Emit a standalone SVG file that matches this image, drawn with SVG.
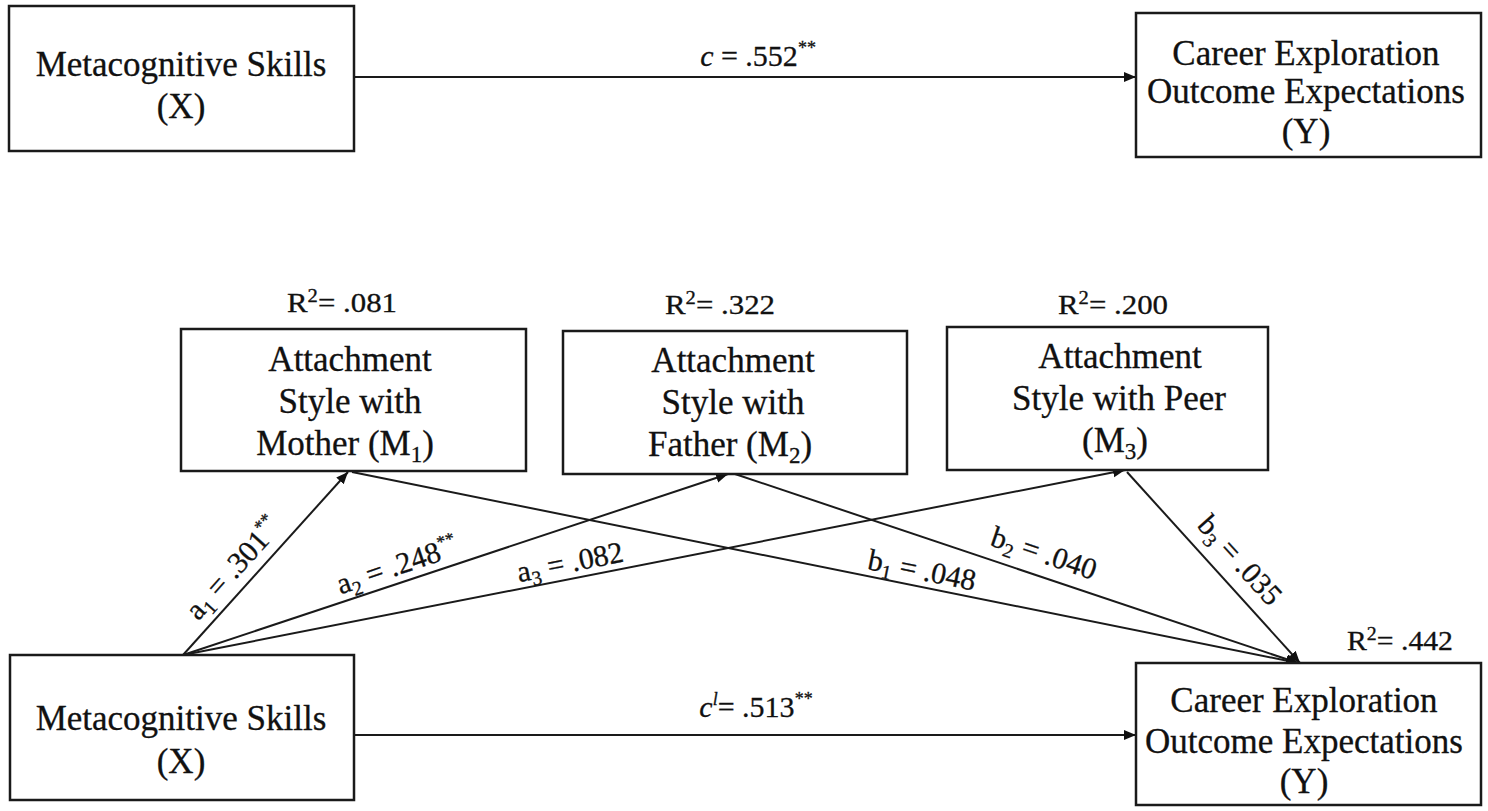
<svg xmlns="http://www.w3.org/2000/svg" width="1488" height="811" viewBox="0 0 1488 811">
<style>
.box{fill:#fff;stroke:#1a1a1a;stroke-width:2.5}
.t{font-family:"Liberation Serif","Times New Roman",serif;font-size:35px;fill:#111;text-anchor:middle;stroke:#111;stroke-width:0.3}
.lbl{font-family:"Liberation Serif","Times New Roman",serif;font-size:30px;fill:#111;text-anchor:middle;stroke:#111;stroke-width:0.3}
.r2{font-family:"Liberation Serif","Times New Roman",serif;font-size:27px;fill:#111;text-anchor:middle;stroke:#111;stroke-width:0.3}
.ln{stroke:#1a1a1a;stroke-width:2;fill:none;marker-end:url(#ah)}
</style>
<defs>
<marker id="ah" markerUnits="userSpaceOnUse" markerWidth="13" markerHeight="11" refX="12" refY="5" orient="auto">
<path d="M0,0 L12,5 L0,10 z" fill="#111"/>
</marker>
</defs>
<rect width="1488" height="811" fill="#fff"/>

<g id="connectors">
<line class="ln" x1="354" y1="77" x2="1136" y2="77"/>
<line class="ln" x1="354" y1="735" x2="1136" y2="735"/>
<line class="ln" x1="183" y1="655" x2="348" y2="472"/>
<line class="ln" x1="183" y1="655" x2="728" y2="474"/>
<line class="ln" x1="183" y1="655" x2="1125" y2="470"/>
<line class="ln" x1="352" y1="472" x2="1298" y2="663"/>
<line class="ln" x1="735" y1="474" x2="1298" y2="663"/>
<line class="ln" x1="1127" y1="472" x2="1300" y2="663"/>
</g>

<g id="labels">
<text class="lbl" x="758" y="66"><tspan font-style="italic">c</tspan> = .552<tspan dy="-12" font-size="18">**</tspan></text>
<text class="lbl" x="756" y="717"><tspan font-style="italic">c</tspan><tspan dy="-12" font-size="18" font-style="italic">l</tspan><tspan dy="12">= .513</tspan><tspan dy="-12" font-size="18">**</tspan></text>
<text class="lbl" transform="translate(233,568) rotate(-48)" y="10">a<tspan dy="6" font-size="20">1</tspan><tspan dy="-6"> = .301</tspan><tspan dy="-12" font-size="18">**</tspan></text>
<text class="lbl" transform="translate(397,565) rotate(-18.5)" y="10">a<tspan dy="6" font-size="20">2</tspan><tspan dy="-6"> = .248</tspan><tspan dy="-12" font-size="18">**</tspan></text>
<text class="lbl" transform="translate(570,562) rotate(-11.1)" y="10">a<tspan dy="6" font-size="20">3</tspan><tspan dy="-6"> = .082</tspan></text>
<text class="lbl" transform="translate(922,570) rotate(11.4)" y="10">b<tspan dy="6" font-size="20">1</tspan><tspan dy="-6"> = .048</tspan></text>
<text class="lbl" transform="translate(1044,553) rotate(18.7)" y="10">b<tspan dy="6" font-size="20">2</tspan><tspan dy="-6"> = .040</tspan></text>
<text class="lbl" transform="translate(1240,560) rotate(48)" y="10">b<tspan dy="6" font-size="20">3</tspan><tspan dy="-6"> = .035</tspan></text>
</g>

<g id="topX">
<rect class="box" x="9" y="6" width="345" height="145"/>
<text class="t" x="181" y="76">Metacognitive Skills</text>
<text class="t" x="181" y="118">(X)</text>
</g>

<g id="topY">
<rect class="box" x="1136" y="13" width="345" height="144"/>
<text class="t" x="1306" y="65">Career Exploration</text>
<text class="t" x="1306" y="103">Outcome Expectations</text>
<text class="t" x="1306" y="143">(Y)</text>
</g>

<g id="M1">
<rect class="box" x="181" y="329" width="345" height="142"/>
<text class="r2" x="342" y="312" textLength="110" lengthAdjust="spacingAndGlyphs">R<tspan dy="-10" font-size="18">2</tspan><tspan dy="10">= .081</tspan></text>
<text class="t" x="350" y="371">Attachment</text>
<text class="t" x="350" y="413">Style with</text>
<text class="t" x="345" y="455">Mother (M<tspan dy="7" font-size="23">1</tspan><tspan dy="-7">)</tspan></text>
</g>

<g id="M2">
<rect class="box" x="563" y="331" width="344" height="143"/>
<text class="r2" x="720" y="314" textLength="110" lengthAdjust="spacingAndGlyphs">R<tspan dy="-10" font-size="18">2</tspan><tspan dy="10">= .322</tspan></text>
<text class="t" x="733" y="372">Attachment</text>
<text class="t" x="733" y="414">Style with</text>
<text class="t" x="730" y="456">Father (M<tspan dy="7" font-size="23">2</tspan><tspan dy="-7">)</tspan></text>
</g>

<g id="M3">
<rect class="box" x="947" y="327" width="321" height="143"/>
<text class="r2" x="1113" y="314" textLength="110" lengthAdjust="spacingAndGlyphs">R<tspan dy="-10" font-size="18">2</tspan><tspan dy="10">= .200</tspan></text>
<text class="t" x="1120" y="368">Attachment</text>
<text class="t" x="1119" y="410">Style with Peer</text>
<text class="t" x="1115" y="452">(M<tspan dy="7" font-size="23">3</tspan><tspan dy="-7">)</tspan></text>
</g>

<g id="bottomX">
<rect class="box" x="10" y="655" width="344" height="145"/>
<text class="t" x="181" y="730">Metacognitive Skills</text>
<text class="t" x="181" y="773">(X)</text>
</g>

<g id="bottomY">
<rect class="box" x="1136" y="663" width="345" height="142"/>
<text class="r2" x="1400" y="650" textLength="106" lengthAdjust="spacingAndGlyphs">R<tspan dy="-10" font-size="18">2</tspan><tspan dy="10">= .442</tspan></text>
<text class="t" x="1304" y="712">Career Exploration</text>
<text class="t" x="1304" y="753">Outcome Expectations</text>
<text class="t" x="1304" y="793">(Y)</text>
</g>
</svg>
